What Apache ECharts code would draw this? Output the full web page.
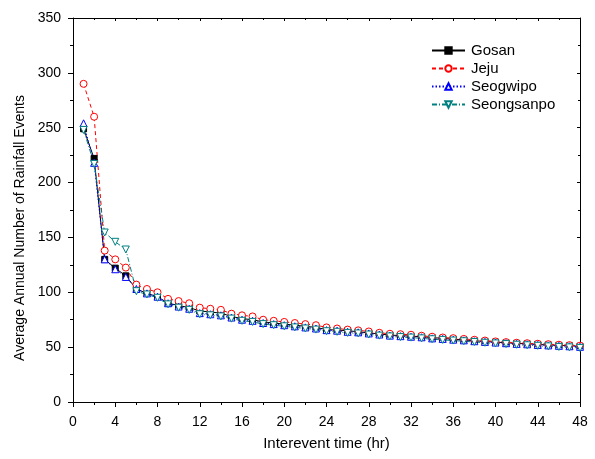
<!DOCTYPE html>
<html><head><meta charset="utf-8">
<script src="https://cdn.jsdelivr.net/npm/echarts@6/dist/echarts.min.js"></script>
<style>html,body{margin:0;padding:0;background:#fff}#c{width:595px;height:459px}</style>
</head><body><div id="c"></div>
<script>
const hours = [1,2,3,4,5,6,7,8,9,10,11,12,13,14,15,16,17,18,19,20,21,22,23,24,25,26,27,28,29,30,31,32,33,34,35,36,37,38,39,40,41,42,43,44,45,46,47,48];
const gosan = [249,222,130,122,115,103,99,96,90,88,86,83,82,81,78,76,75,73,72,71,70,69,68,66,65.5,65,64,63,62,61,60.5,60,59.5,58.7,58,57.2,56.6,55.8,55.2,54.6,54,53.4,53,52.5,52,51.6,51.2,50.8];
const jeju = [290,260,138,130,122.5,107,103,100,94,92,90,86,85,84,80.5,79,78,75,74,73,72,71,70,68,67,66,65.3,64.3,63.1,62.2,61.8,61.3,60.4,59.5,58.8,58.2,57.5,56.7,56,55.2,54.6,54,53.6,53.1,52.7,52.2,51.8,51.3];
const seogwipo = [254,218,130,121,114,103,99,96,90,87,85,81,80,79,77,75,74,72,71,70,69,68,67,65.5,65,64,63.5,62.5,61.5,60.5,60,59.5,59,58,57.5,56.8,56.2,55.4,54.8,54.2,53.6,53,52.6,52,51.6,51.2,50.8,50.3];
const seongsanpo = [248,217,154.5,146,139,101,98,95,89,86,84,80,79,78,76,74,73,71,70,69,68,67,66,64.5,64,63,62.5,61.5,60.5,59.8,59.2,58.7,58,57.2,56.6,56,55.4,54.7,54,53.4,52.8,52.2,51.7,51.2,50.7,50.2,49.8,49.3];
const seriesNames = ['Gosan','Jeju','Seogwipo','Seongsanpo'];

function pair(vals){ return hours.map((h,i)=>[h,vals[i]]); }
const font = 'Liberation Sans, Arial, sans-serif';
const chart = echarts.init(document.getElementById('c'), null, {renderer:'canvas'});
chart.setOption({
  animation:false,
  backgroundColor:'#fff',
  grid:{left:73,right:15,top:18,bottom:57,show:false},
  legend:{
    orient:'vertical', left:426, top:38, itemWidth:33, itemHeight:8, itemGap:3,
    textStyle:{fontFamily:font,fontSize:15,color:'#000',padding:[0,0,0,1]},
    data:seriesNames
  },
  xAxis:[{
    type:'value', min:0, max:48, interval:4,
    name:'Interevent time (hr)', nameLocation:'middle', nameGap:34,
    nameTextStyle:{fontFamily:font,fontSize:15,color:'#000'},
    axisLine:{show:true,onZero:false,lineStyle:{color:'#000',width:1}},
    axisTick:{show:true,length:5,lineStyle:{color:'#000'}},
    minorTick:{show:true,splitNumber:2,length:3,lineStyle:{color:'#000'}},
    axisLabel:{fontFamily:font,fontSize:14,color:'#000',margin:13},
    splitLine:{show:false}
  },{
    type:'value', min:0, max:48, interval:4, position:'top',
    axisLine:{show:true,onZero:false,lineStyle:{color:'#000',width:1}},
    axisTick:{show:true,inside:true,length:3,lineStyle:{color:'#000'}},
    minorTick:{show:true,splitNumber:2,length:2,lineStyle:{color:'#000'}},
    axisLabel:{show:false}, splitLine:{show:false}
  }],
  yAxis:[{
    type:'value', min:0, max:350, interval:50,
    name:'Average Annual Number of Rainfall Events', nameLocation:'middle', nameGap:44,
    nameTextStyle:{fontFamily:font,fontSize:14,color:'#000',padding:[0,36,0,0]},
    axisLine:{show:true,onZero:false,lineStyle:{color:'#000',width:1}},
    axisTick:{show:true,length:5,lineStyle:{color:'#000'}},
    minorTick:{show:true,splitNumber:2,length:3,lineStyle:{color:'#000'}},
    axisLabel:{fontFamily:font,fontSize:14,color:'#000',margin:12},
    splitLine:{show:false}
  },{
    type:'value', min:0, max:350, interval:50, position:'right',
    axisLine:{show:true,onZero:false,lineStyle:{color:'#000',width:1}},
    axisTick:{show:true,inside:true,length:3,lineStyle:{color:'#000'}},
    minorTick:{show:true,splitNumber:2,length:2,lineStyle:{color:'#000'}},
    axisLabel:{show:false}, splitLine:{show:false}
  }],
  series:[
    {name:'Gosan',type:'line',data:pair(gosan),symbol:'rect',symbolSize:6,
     lineStyle:{color:'#000',width:1,type:'solid'},
     itemStyle:{color:'#000',borderColor:'#000',borderWidth:1}},
    {name:'Jeju',type:'line',data:pair(jeju),symbol:'circle',symbolSize:7,
     lineStyle:{color:'#ff0000',width:1,type:[4,3]},
     itemStyle:{color:'#fff',borderColor:'#ff0000',borderWidth:1}},
    {name:'Seogwipo',type:'line',data:pair(seogwipo),symbol:'triangle',symbolSize:7,
     lineStyle:{color:'#0000ff',width:1,type:[1.5,2]},
     itemStyle:{color:'#fff',borderColor:'#0000ff',borderWidth:1}},
    {name:'Seongsanpo',type:'line',data:pair(seongsanpo),symbol:'triangle',symbolRotate:180,symbolSize:7,
     lineStyle:{color:'#008080',width:1,type:[5,2,1,2]},
     itemStyle:{color:'#fff',borderColor:'#008080',borderWidth:1}}
  ]
});
</script></body></html>
